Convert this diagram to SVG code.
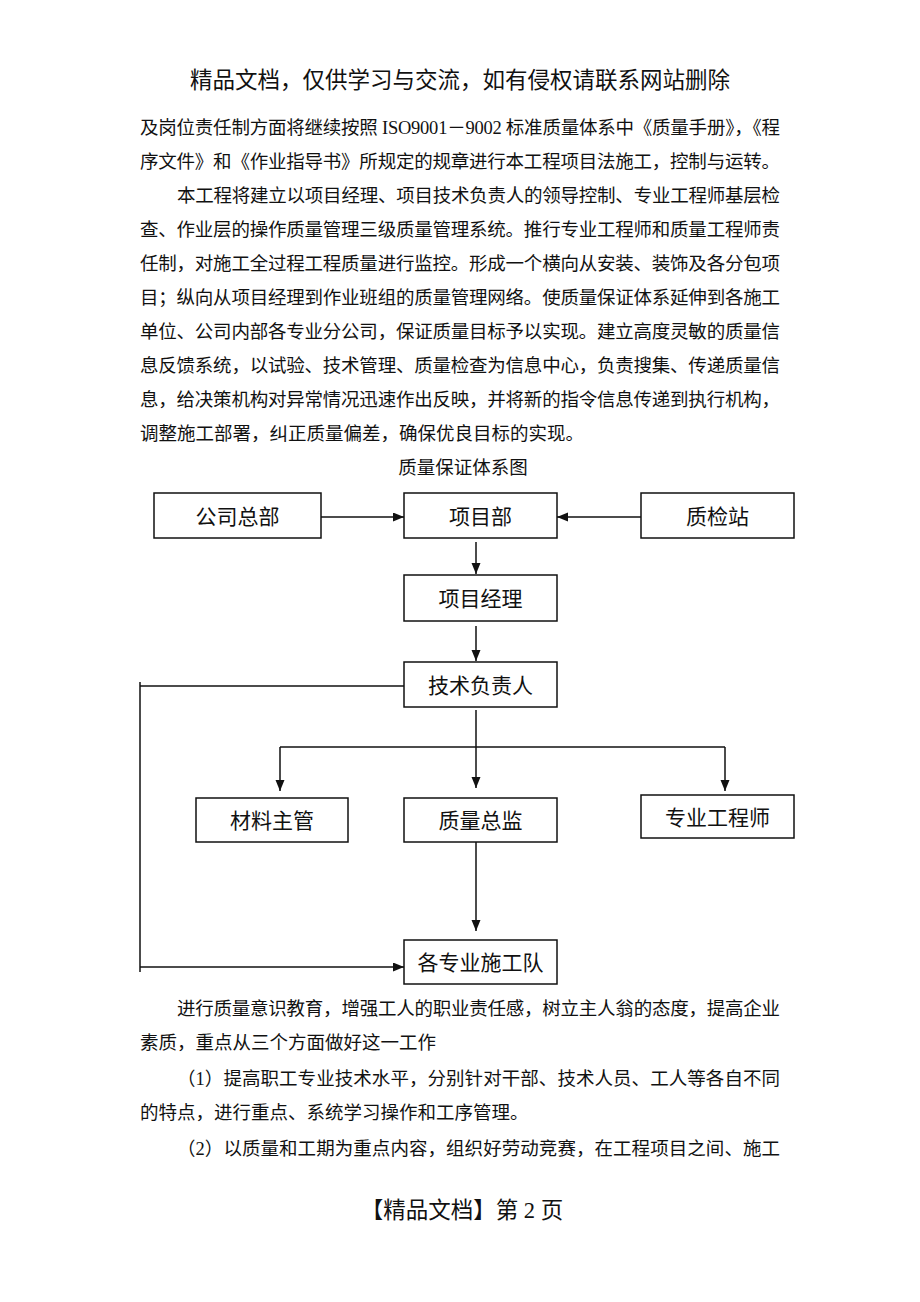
<svg xmlns="http://www.w3.org/2000/svg" width="920" height="1302" viewBox="0 0 920 1302">
<defs>
<style>
text{font-family:"Liberation Serif","Noto Sans CJK SC",serif;fill:#111}
.hd{font-size:22.5px}
.bd{font-size:18.5px}
.nt{font-size:21px;text-anchor:middle}
.box{fill:#fff;stroke:#111;stroke-width:1.5}
.ln{fill:none;stroke:#111;stroke-width:1.5}
</style>
<marker id="ah" markerUnits="userSpaceOnUse" markerWidth="12" markerHeight="10" refX="11" refY="4.5" orient="auto">
<path d="M0,0 L11,4.5 L0,9 z" fill="#111"/>
</marker>
</defs>
<rect width="920" height="1302" fill="#fff"/>
<text class="hd" x="460" y="88" text-anchor="middle">精品文档，仅供学习与交流，如有侵权请联系网站删除</text>
<g id="body-top" class="bd">
<text x="140" y="134" textLength="640" lengthAdjust="spacing">及岗位责任制方面将继续按照 ISO9001－9002 标准质量体系中《质量手册》，《程</text>
<text x="140" y="168" textLength="640" lengthAdjust="spacing">序文件》和《作业指导书》所规定的规章进行本工程项目法施工，控制与运转。</text>
<text x="177" y="202" textLength="603" lengthAdjust="spacing">本工程将建立以项目经理、项目技术负责人的领导控制、专业工程师基层检</text>
<text x="140" y="236" textLength="640" lengthAdjust="spacing">查、作业层的操作质量管理三级质量管理系统。推行专业工程师和质量工程师责</text>
<text x="140" y="270" textLength="640" lengthAdjust="spacing">任制，对施工全过程工程质量进行监控。形成一个横向从安装、装饰及各分包项</text>
<text x="140" y="304" textLength="640" lengthAdjust="spacing">目；纵向从项目经理到作业班组的质量管理网络。使质量保证体系延伸到各施工</text>
<text x="140" y="338" textLength="640" lengthAdjust="spacing">单位、公司内部各专业分公司，保证质量目标予以实现。建立高度灵敏的质量信</text>
<text x="140" y="372" textLength="640" lengthAdjust="spacing">息反馈系统，以试验、技术管理、质量检查为信息中心，负责搜集、传递质量信</text>
<text x="140" y="406" textLength="640" lengthAdjust="spacing">息，给决策机构对异常情况迅速作出反映，并将新的指令信息传递到执行机构，</text>
<text x="140" y="440">调整施工部署，纠正质量偏差，确保优良目标的实现。</text>
<text x="463" y="474" text-anchor="middle">质量保证体系图</text>
</g>
<g id="connectors">
<line class="ln" x1="321" y1="517" x2="404" y2="517" marker-end="url(#ah)"/>
<line class="ln" x1="641" y1="517" x2="557" y2="517" marker-end="url(#ah)"/>
<line class="ln" x1="476" y1="542" x2="476" y2="574" marker-end="url(#ah)"/>
<line class="ln" x1="476" y1="626" x2="476" y2="661" marker-end="url(#ah)"/>
<line class="ln" x1="404" y1="686" x2="140" y2="686"/>
<line class="ln" x1="140" y1="682" x2="140" y2="972"/>
<line class="ln" x1="140" y1="967" x2="404" y2="967" marker-end="url(#ah)"/>
<line class="ln" x1="476" y1="710" x2="476" y2="788" marker-end="url(#ah)"/>
<line class="ln" x1="280" y1="747" x2="725" y2="747"/>
<line class="ln" x1="280" y1="747" x2="280" y2="791" marker-end="url(#ah)"/>
<line class="ln" x1="725" y1="747" x2="725" y2="791" marker-end="url(#ah)"/>
<line class="ln" x1="476" y1="842" x2="476" y2="931" marker-end="url(#ah)"/>
</g>
<g id="n-gongsi"><rect class="box" x="154" y="493" width="167" height="45"/><text class="nt" x="237.5" y="523.5">公司总部</text></g>
<g id="n-xiangmubu"><rect class="box" x="404" y="493" width="153" height="45"/><text class="nt" x="480.5" y="523.5">项目部</text></g>
<g id="n-zhijianzhan"><rect class="box" x="641" y="493" width="153" height="45"/><text class="nt" x="717.5" y="523.5">质检站</text></g>
<g id="n-jingli"><rect class="box" x="404" y="575" width="153" height="46"/><text class="nt" x="480.5" y="606">项目经理</text></g>
<g id="n-jishu"><rect class="box" x="404" y="662" width="153" height="45"/><text class="nt" x="480.5" y="692.5">技术负责人</text></g>
<g id="n-cailiao"><rect class="box" x="196" y="798" width="152" height="44"/><text class="nt" x="272" y="828">材料主管</text></g>
<g id="n-zhiliang"><rect class="box" x="404" y="798" width="153" height="44"/><text class="nt" x="480.5" y="828">质量总监</text></g>
<g id="n-zhuanye"><rect class="box" x="641" y="795" width="153" height="43"/><text class="nt" x="717.5" y="824.5">专业工程师</text></g>
<g id="n-shigongdui"><rect class="box" x="404" y="940" width="153" height="44"/><text class="nt" x="480.5" y="970">各专业施工队</text></g>
<g id="body-bottom" class="bd">
<text x="177" y="1015" textLength="603" lengthAdjust="spacing">进行质量意识教育，增强工人的职业责任感，树立主人翁的态度，提高企业</text>
<text x="140" y="1049">素质，重点从三个方面做好这一工作</text>
<text x="177" y="1085" textLength="603" lengthAdjust="spacing">（1）提高职工专业技术水平，分别针对干部、技术人员、工人等各自不同</text>
<text x="140" y="1119">的特点，进行重点、系统学习操作和工序管理。</text>
<text x="177" y="1155" textLength="603" lengthAdjust="spacing">（2）以质量和工期为重点内容，组织好劳动竞赛，在工程项目之间、施工</text>
</g>
<text class="hd" x="462" y="1218" text-anchor="middle">【精品文档】第 2 页</text>
</svg>
